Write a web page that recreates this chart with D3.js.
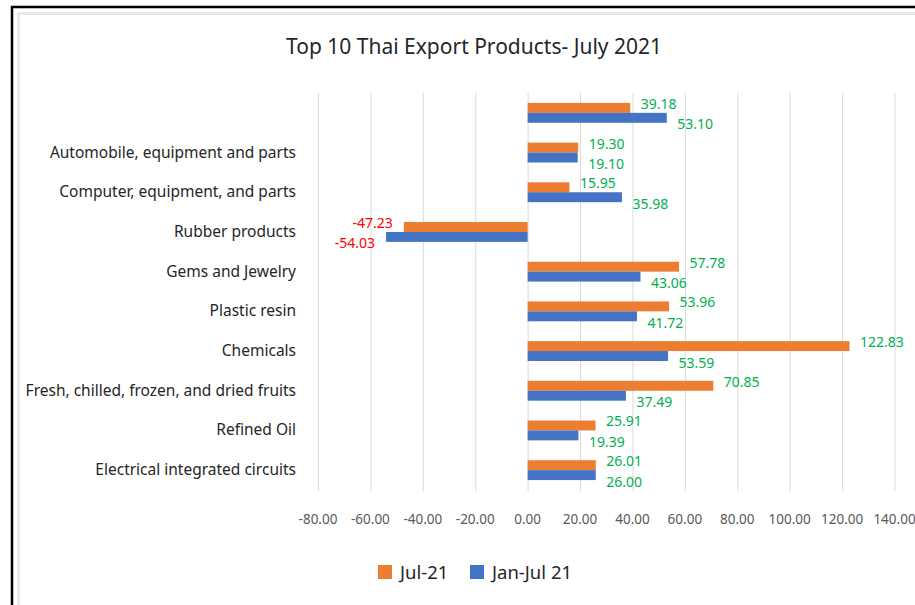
<!DOCTYPE html>
<html>
<head>
<meta charset="utf-8">
<script src="https://cdn.jsdelivr.net/npm/d3@7"></script>
<style>
  body { margin: 0; background: #fff; }
  svg { display: block; }
</style>
</head>
<body>
<div id="chart"></div>
<script>
// categories top to bottom (first one has no label in the source)
const categories = [
  "",
  "Automobile, equipment and parts",
  "Computer, equipment, and parts",
  "Rubber products",
  "Gems and Jewelry",
  "Plastic resin",
  "Chemicals",
  "Fresh, chilled, frozen, and dried fruits",
  "Refined Oil",
  "Electrical integrated circuits"
];
const julValues = [39.18, 19.30, 15.95, -47.23, 57.78, 53.96, 122.83, 70.85, 25.91, 26.01];
const ytdValues = [53.10, 19.10, 35.98, -54.03, 43.06, 41.72, 53.59, 37.49, 19.39, 26.00];
const seriesNames = ["Jul-21", "Jan-Jul 21"];
const tickValues = [-80, -60, -40, -20, 0, 20, 40, 60, 80, 100, 120, 140];

const width = 915, height = 605;
const font = "'Noto Sans', sans-serif";
const colors = ["#ED7D31", "#4472C4"];
const fmt = d => d.toFixed(2);

const svg = d3.select("#chart").append("svg")
  .attr("width", width)
  .attr("height", height);

// outer black frame and inner light chart border
svg.append("rect")
  .attr("x", 12).attr("y", 7)
  .attr("width", 960).attr("height", 700)
  .attr("fill", "none").attr("stroke", "#000").attr("stroke-width", 2.5);
svg.append("rect")
  .attr("x", 18.5).attr("y", 13.5)
  .attr("width", 960).attr("height", 700)
  .attr("fill", "none").attr("stroke", "#e9e9e9").attr("stroke-width", 3);

svg.append("text")
  .attr("x", 474).attr("y", 54)
  .attr("text-anchor", "middle")
  .attr("font-family", font).attr("font-size", 21)
  .attr("fill", "#262626")
  .text("Top 10 Thai Export Products- July 2021");

const x = d3.scaleLinear().domain([-80, 140]).range([318, 894.5]);
const y = d3.scaleBand()
  .domain(categories)
  .range([93, 490])
  .paddingInner(0.5)
  .paddingOuter(0.25);
const sub = d3.scaleBand().domain([0, 1]).range([0, y.bandwidth()]);

// gridlines
svg.append("g")
  .selectAll("line")
  .data(tickValues)
  .join("line")
  .attr("x1", d => x(d) + 0.5).attr("x2", d => x(d) + 0.5)
  .attr("y1", 93).attr("y2", 491)
  .attr("stroke", "#d9d9d9").attr("stroke-width", 1);

// x tick labels
svg.append("g")
  .selectAll("text")
  .data(tickValues)
  .join("text")
  .attr("x", d => x(d))
  .attr("y", 524)
  .attr("text-anchor", "middle")
  .attr("font-family", font).attr("font-size", 13.5)
  .attr("fill", "#595959")
  .text(fmt);

// category labels
svg.append("g")
  .selectAll("text")
  .data(categories)
  .join("text")
  .attr("x", 296)
  .attr("y", d => y(d) + y.bandwidth() / 2 + 5)
  .attr("text-anchor", "end")
  .attr("font-family", font).attr("font-size", 15.5)
  .attr("fill", "#262626")
  .text(d => d);

const series = [julValues, ytdValues];
const labelShift = [-4, 6.5];

series.forEach((vals, s) => {
  const g = svg.append("g");
  g.selectAll("rect")
    .data(vals)
    .join("rect")
    .attr("x", d => x(Math.min(0, d)))
    .attr("y", (d, i) => y(categories[i]) + sub(s))
    .attr("width", d => Math.abs(x(d) - x(0)))
    .attr("height", sub.bandwidth())
    .attr("fill", colors[s]);

  g.selectAll("text")
    .data(vals)
    .join("text")
    .attr("x", d => d < 0 ? x(d) - 11 : x(d) + 10.5)
    .attr("y", (d, i) => y(categories[i]) + sub(s) + sub.bandwidth() / 2 + labelShift[s] + 5)
    .attr("text-anchor", d => d < 0 ? "end" : "start")
    .attr("font-family", font).attr("font-size", 14)
    .attr("fill", d => d < 0 ? "#FF0000" : "#00B050")
    .text(fmt);
});

// legend
const legend = svg.append("g")
  .selectAll("g")
  .data(seriesNames)
  .join("g")
  .attr("transform", (d, i) => `translate(${[378, 470][i]},565)`);
legend.append("rect")
  .attr("width", 14).attr("height", 14)
  .attr("fill", (d, i) => colors[i]);
legend.append("text")
  .attr("x", 22).attr("y", 13.5)
  .attr("font-family", font).attr("font-size", 18.5)
  .attr("fill", "#262626")
  .text(d => d);
</script>
</body>
</html>
